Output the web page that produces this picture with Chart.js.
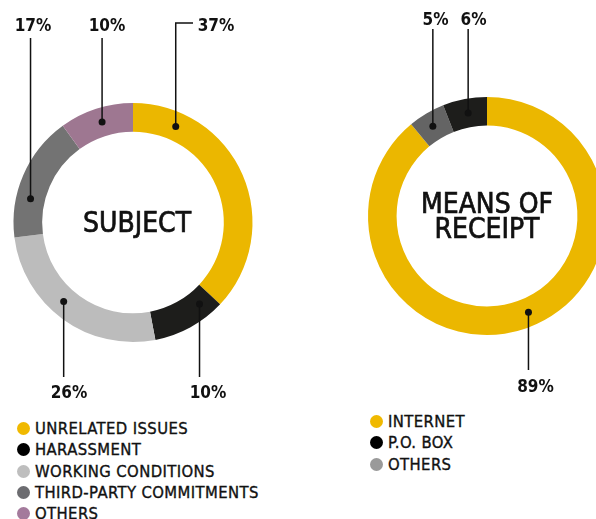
<!DOCTYPE html>
<html>
<head>
<meta charset="utf-8">
<script src="https://cdn.jsdelivr.net/npm/chart.js@4.4.0/dist/chart.umd.min.js"></script>
<style>
  body {
    margin: 0;
    width: 596px;
    height: 519px;
    overflow: hidden;
    position: relative;
    background: #fff;
    font-family: "DejaVu Sans Condensed", "DejaVu Sans", sans-serif;
  }
  canvas { position: absolute; top: 0; }
  #subjectChart { left: 0; }
  #receiptChart { left: 300px; }
  .legend {
    position: absolute;
    margin: 0;
    padding: 0;
    list-style: none;
    font-size: 16.5px;
    line-height: 21px;
    letter-spacing: 0.4px;
    color: #111;
    -webkit-text-stroke: 0.35px #111;
    white-space: nowrap;
  }
  .legend li { display: flex; align-items: center; height: 21.3px; }
  .legend span {
    display: inline-block;
    width: 13px;
    height: 13px;
    border-radius: 50%;
    margin-right: 5px;
    -webkit-text-stroke: 0;
  }
  #subjectLegend { left: 17px; top: 418px; }
  #receiptLegend { left: 370px; top: 411px; }
</style>
</head>
<body>
<canvas id="subjectChart" width="300" height="400"></canvas>
<canvas id="receiptChart" width="340" height="400"></canvas>
<ul class="legend" id="subjectLegend"></ul>
<ul class="legend" id="receiptLegend"></ul>

<script>
// subject breakdown (%)
const subjectLabels = ["UNRELATED ISSUES", "HARASSMENT", "WORKING CONDITIONS", "THIRD-PARTY COMMITMENTS", "OTHERS"];
const subjectValues = [37, 10, 26, 17, 10];

// means of receipt (%)
const receiptLabels = ["INTERNET", "P.O. BOX", "OTHERS"];
const receiptValues = [89, 6, 5];
// order the slices go round the ring (clockwise from the top)
const receiptRingOrder = [0, 2, 1];

const subjectColors = ["#ebb700", "#1d1d1b", "#bcbcbc", "#737373", "#9e7791"];
const subjectDotColors = ["#f0b900", "#000000", "#bebebe", "#6c6c70", "#a47a9c"];
const receiptColors = ["#ebb700", "#1d1d1b", "#646464"];
const receiptDotColors = ["#f0b900", "#000000", "#9a9a9a"];

const FONT = '"DejaVu Sans Condensed", "DejaVu Sans", sans-serif';

// draws the ring title plus the dot + leader line + value for each slice
const calloutPlugin = {
  id: "callouts",
  afterDraw(chart, args, opts) {
    const ctx = chart.ctx;
    const meta = chart.getDatasetMeta(0);
    const values = chart.data.datasets[0].data;
    const first = meta.data[0];
    ctx.save();

    ctx.fillStyle = "#111";
    ctx.strokeStyle = "#111";
    ctx.textAlign = "center";
    ctx.textBaseline = "alphabetic";
    ctx.font = "28px " + FONT;
    ctx.lineWidth = 0.7;
    opts.title.forEach((line, k) => {
      const tx = first.x + opts.titleDx, ty = first.y + opts.titleDy[k];
      ctx.fillText(line, tx, ty);
      ctx.strokeText(line, tx, ty);
    });

    ctx.lineWidth = 1.5;
    ctx.font = "bold 17px " + FONT;
    opts.items.forEach(it => {
      const arc = meta.data[it.index];
      const a = arc.startAngle + it.t * (arc.endAngle - arc.startAngle);
      const r = (arc.innerRadius + arc.outerRadius) / 2;
      const px = arc.x + r * Math.cos(a);
      const py = arc.y + r * Math.sin(a);

      ctx.beginPath();
      ctx.moveTo(px, py);
      ctx.lineTo(px, it.lineY);
      if (it.elbowX) ctx.lineTo(it.elbowX, it.lineY);
      ctx.stroke();

      ctx.beginPath();
      ctx.arc(px, py, 3.5, 0, Math.PI * 2);
      ctx.fill();

      ctx.fillText(values[it.index] + "%", it.labelX, it.labelY);
    });
    ctx.restore();
  }
};

function ringOptions(padding, callouts) {
  return {
    responsive: false,
    animation: false,
    events: [],
    cutout: "76%",
    layout: { padding: padding },
    plugins: {
      legend: { display: false },
      tooltip: { enabled: false },
      callouts: callouts
    }
  };
}

new Chart(document.getElementById("subjectChart"), {
  type: "doughnut",
  data: {
    labels: subjectLabels,
    datasets: [{ data: subjectValues, backgroundColor: subjectColors, borderWidth: 0 }]
  },
  options: ringOptions({ left: 13.5, top: 103, right: 47.5, bottom: 58 }, {
    title: ["SUBJECT"],
    titleDx: 4,
    titleDy: [9.5],
    items: [
      { index: 0, t: 0.18, lineY: 23, elbowX: 193, labelX: 216, labelY: 31 },
      { index: 1, t: 0.21, lineY: 377, labelX: 208, labelY: 398 },
      { index: 2, t: 0.556, lineY: 377, labelX: 69, labelY: 398 },
      { index: 3, t: 0.33, lineY: 38, labelX: 33, labelY: 31 },
      { index: 4, t: 0.525, lineY: 38, labelX: 107, labelY: 31 }
    ]
  }),
  plugins: [calloutPlugin]
});

new Chart(document.getElementById("receiptChart"), {
  type: "doughnut",
  data: {
    labels: receiptRingOrder.map(i => receiptLabels[i]),
    datasets: [{
      data: receiptRingOrder.map(i => receiptValues[i]),
      backgroundColor: receiptRingOrder.map(i => receiptColors[i]),
      borderWidth: 0
    }]
  },
  options: ringOptions({ left: 68, top: 97, right: 34, bottom: 65 }, {
    title: ["MEANS OF", "RECEIPT"],
    titleDx: 0,
    titleDy: [-3, 22],
    items: [
      { index: 0, t: 0.489, lineY: 370, labelX: 235.5, labelY: 392 },
      { index: 1, t: 0.47, lineY: 29, labelX: 135.5, labelY: 25 },
      { index: 2, t: 0.52, lineY: 29, labelX: 173.5, labelY: 25 }
    ]
  }),
  plugins: [calloutPlugin]
});

function buildLegend(id, labels, colors) {
  const ul = document.getElementById(id);
  labels.forEach((label, i) => {
    const li = document.createElement("li");
    const dot = document.createElement("span");
    dot.style.background = colors[i];
    li.appendChild(dot);
    li.appendChild(document.createTextNode(label));
    ul.appendChild(li);
  });
}

buildLegend("subjectLegend", subjectLabels, subjectDotColors);
buildLegend("receiptLegend", receiptLabels, receiptDotColors);
</script>
</body>
</html>
